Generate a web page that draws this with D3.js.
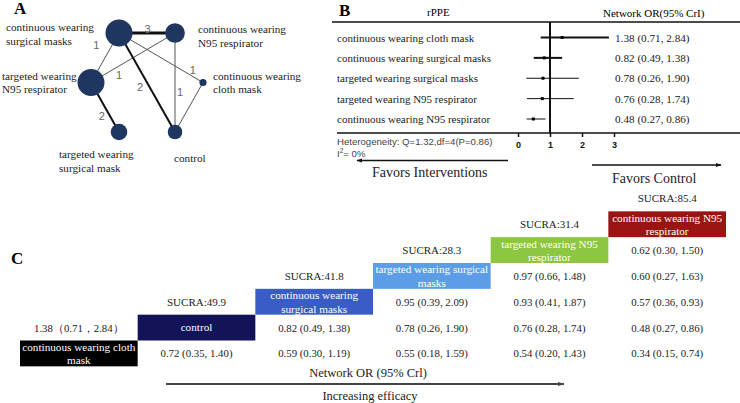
<!DOCTYPE html>
<html><head><meta charset="utf-8">
<script src="https://cdn.jsdelivr.net/npm/d3@7"></script>
<style>body{margin:0;background:#fff} svg{display:block}</style>
</head><body><svg id="c" width="740" height="403"></svg>
<script>
// ================= DATA =================
// Panel A: network
const nodeNames = ["continuous wearing surgical masks","continuous wearing N95 respirator","targeted wearing N95 respirator","continuous wearing cloth mask","targeted wearing surgical mask","control"];
const nodeLines = [["continuous wearing","surgical masks"],["continuous wearing","N95 respirator"],["targeted wearing","N95 respirator"],["continuous wearing","cloth mask"],["targeted wearing","surgical mask"],["control"]];
const nodeSizes = [169, 90, 169, 12, 64, 49];
const edgeFrom = [0,0,1,0,0,1,3,2];
const edgeTo   = [1,2,2,5,3,5,5,4];
const edgeStudies = [3,1,1,2,1,1,1,2];
const edgeLabelShown = [true,true,true,true,true,true,false,true];

// Panel B: forest plot
const forestLabels = ["continuous wearing cloth mask","continuous wearing surgical masks","targeted wearing surgical masks","targeted wearing N95 respirator","continuous wearing N95 respirator"];
const forestOR = [1.38,0.82,0.78,0.76,0.48];
const forestLo = [0.71,0.49,0.26,0.28,0.27];
const forestHi = [2.84,1.38,1.90,1.74,0.86];
const forestTicks = [0,1,2,3];

// Panel C: league table
const leagueTreatments = ["continuous wearing cloth mask","control","continuous wearing surgical masks","targeted wearing surgical masks","targeted wearing N95 respirator","continuous wearing N95 respirator"];
const leagueBoxLines = [["continuous wearing cloth","mask"],["control"],["continuous wearing","surgical masks"],["targeted wearing surgical","masks"],["targeted wearing N95","respirator"],["continuous wearing N95","respirator"]];
const leagueSucra = [null,49.9,41.8,28.3,31.4,85.4];
const cellRow = [0,0,0,0,0, 1,1,1,1,1, 2,2,2, 3,3, 4];
const cellCol = [1,2,3,4,5, 0,2,3,4,5, 3,4,5, 4,5, 5];
const cellOR  = [0.72,0.59,0.55,0.54,0.34, 1.38,0.82,0.78,0.76,0.48, 0.95,0.93,0.57, 0.97,0.60, 0.62];
const cellLo  = [0.35,0.30,0.18,0.20,0.15, 0.71,0.49,0.26,0.28,0.27, 0.39,0.41,0.36, 0.66,0.27, 0.30];
const cellHi  = [1.40,1.19,1.59,1.43,0.74, 2.84,1.38,1.90,1.74,0.86, 2.09,1.87,0.93, 1.48,1.63, 1.50];

// ================= STYLE / LAYOUT =================
const SERIF = "'Liberation Serif','Times New Roman',serif";
const SANS = "'Liberation Sans',Arial,sans-serif";
const nodeGX = [1,3,0,4,1,3], nodeGY = [0,0,1,1,2,2];
const nodeLabelOff = [[-113,-2],[23,0],[-89,-3],[10,-3],[-60,26],[-1,30]];
const edgeLabelPos = [[0.51,0,-4],[0.24,-16,0],[0.667,0,9],[0.545,-9.5,0],[0.88,0,-7],[0.6,5,0],[0,0,0],[0.67,-8,0]];
const forestStroke = [2,2,1,1,1];
const boxColors = ["#000000","#13135a","#3a5cc6","#5c9de8","#8dc640","#9b1414"];

const svg = d3.select("#c");
svg.append("rect").attr("width",740).attr("height",403).attr("fill","#fff");

// ================= PANEL A =================
const gA = svg.append("g");
gA.append("text").attr("x",14).attr("y",14).attr("font-family",SERIF).attr("font-weight","bold").attr("font-size",17).text("A");
const ax = d3.scaleLinear().domain([0,4]).range([91,203]);
const ay = d3.scaleLinear().domain([0,2]).range([33,132]);
const rS = d3.scaleSqrt().domain([0,169]).range([0,13.5]);
const nodes = nodeNames.map((n,i)=>({name:n,x:ax(nodeGX[i]),y:ay(nodeGY[i]),r:rS(nodeSizes[i]),lines:nodeLines[i],off:nodeLabelOff[i]}));
const edges = edgeFrom.map((f,i)=>({s:nodes[f],t:nodes[edgeTo[i]],n:edgeStudies[i],show:edgeLabelShown[i],lp:edgeLabelPos[i]}));
const wS = d3.scaleLinear().domain([1,3]).range([1,3]);
gA.selectAll("line.e").data(edges).join("line").attr("class","e")
  .attr("x1",d=>d.s.x).attr("y1",d=>d.s.y).attr("x2",d=>d.t.x).attr("y2",d=>d.t.y)
  .attr("stroke",d=>d.n>1?"#111":"#555").attr("stroke-width",d=>wS(d.n));
gA.selectAll("text.el").data(edges.filter(d=>d.show)).join("text").attr("class","el")
  .attr("x",d=>d.s.x+(d.t.x-d.s.x)*d.lp[0]+d.lp[1])
  .attr("y",d=>d.s.y+(d.t.y-d.s.y)*d.lp[0]+d.lp[2])
  .attr("text-anchor","middle").attr("dominant-baseline","central")
  .attr("font-family",SANS).attr("font-size",11).attr("fill","#666").text(d=>d.n);
gA.selectAll("circle").data(nodes).join("circle")
  .attr("cx",d=>d.x).attr("cy",d=>d.y).attr("r",d=>d.r).attr("fill","#1f3660");
nodes.forEach(d=>{
  const t = gA.append("text").attr("font-family",SERIF).attr("font-size",11.2).attr("fill","#222");
  d.lines.forEach((l,j)=>t.append("tspan").attr("x",d.x+d.off[0]).attr("y",d.y+d.off[1]+j*13.5).text(l));
});

// ================= PANEL B =================
const gB = svg.append("g");
gB.append("text").attr("x",339).attr("y",16).attr("font-family",SERIF).attr("font-weight","bold").attr("font-size",17).text("B");
gB.append("text").attr("x",427).attr("y",16).attr("font-family",SERIF).attr("font-size",11).text("rPPE");
gB.append("text").attr("x",603).attr("y",17).attr("font-family",SERIF).attr("font-size",11).text("Network OR(95% CrI)");
const fx = d3.scaleLinear().domain([0,3]).range([518,614]);
const fy = d3.scalePoint().domain(forestLabels).range([37.5,119]);
gB.append("line").attr("x1",332).attr("x2",740).attr("y1",22).attr("y2",22).attr("stroke","#111").attr("stroke-width",1.5);
gB.append("line").attr("x1",337).attr("x2",740).attr("y1",133).attr("y2",133).attr("stroke","#111").attr("stroke-width",1.5);
gB.append("line").attr("x1",fx(1)).attr("x2",fx(1)).attr("y1",22).attr("y2",133).attr("stroke","#111").attr("stroke-width",2);
const fr = forestLabels.map((l,i)=>({l,or:forestOR[i],lo:forestLo[i],hi:forestHi[i],sw:forestStroke[i]}));
gB.selectAll("text.fl").data(fr).join("text").attr("class","fl")
  .attr("x",337).attr("y",d=>fy(d.l)+4).attr("font-family",SERIF).attr("font-size",11).attr("fill","#222").text(d=>d.l);
gB.selectAll("line.ci").data(fr).join("line").attr("class","ci")
  .attr("x1",d=>fx(d.lo)).attr("x2",d=>fx(d.hi)).attr("y1",d=>fy(d.l)).attr("y2",d=>fy(d.l))
  .attr("stroke","#111").attr("stroke-width",d=>d.sw);
gB.selectAll("rect.pt").data(fr).join("rect").attr("class","pt")
  .attr("x",d=>fx(d.or)-1.5).attr("y",d=>fy(d.l)-1.5).attr("width",3).attr("height",3).attr("fill","#000");
gB.selectAll("text.fv").data(fr).join("text").attr("class","fv")
  .attr("x",615).attr("y",d=>fy(d.l)+4).attr("font-family",SERIF).attr("font-size",11.2).attr("fill","#222")
  .text(d=>`${d3.format(".2f")(d.or)} (${d3.format(".2f")(d.lo)}, ${d3.format(".2f")(d.hi)})`);
const axB = gB.append("g").attr("transform","translate(0,133)")
  .call(d3.axisBottom(fx).tickValues(forestTicks).tickSize(4).tickFormat(d3.format("d")));
axB.select(".domain").remove();
axB.selectAll(".tick line").attr("stroke","#111").attr("stroke-width",1.5);
axB.selectAll(".tick text").attr("font-family",SANS).attr("font-weight","bold").attr("font-size",9).attr("fill","#111").attr("dy","0.9em");
gB.append("text").attr("x",337).attr("y",144.5).attr("font-family",SANS).attr("font-size",9.6).attr("fill","#444").text("Heterogeneity: Q=1.32,df=4(P=0.86)");
const i2 = gB.append("text").attr("x",337).attr("y",156.5).attr("font-family",SANS).attr("font-size",9.6).attr("fill","#444");
i2.append("tspan").text("I");
i2.append("tspan").attr("font-size",6.5).attr("dy",-4).text("2");
i2.append("tspan").attr("dy",4).text("= 0%");
const defs = svg.append("defs");
defs.append("marker").attr("id","ah").attr("viewBox","0 0 10 10").attr("refX",9).attr("refY",5)
  .attr("markerWidth",6).attr("markerHeight",6).attr("markerUnits","userSpaceOnUse").attr("orient","auto-start-reverse")
  .append("path").attr("d","M0,1.5L10,5L0,8.5Z").attr("fill","#111");
defs.append("marker").attr("id","ah2").attr("viewBox","0 0 10 10").attr("refX",9).attr("refY",5)
  .attr("markerWidth",7).attr("markerHeight",7).attr("markerUnits","userSpaceOnUse").attr("orient","auto")
  .append("path").attr("d","M0,2L10,5L0,8Z").attr("fill","#444");
gB.append("line").attr("x1",508).attr("x2",357).attr("y1",160.5).attr("y2",160.5).attr("stroke","#111").attr("stroke-width",1.3).attr("marker-end","url(#ah)");
gB.append("line").attr("x1",592).attr("x2",721).attr("y1",165).attr("y2",165).attr("stroke","#111").attr("stroke-width",1.3).attr("marker-end","url(#ah)");
gB.append("text").attr("x",372).attr("y",177).attr("font-family",SERIF).attr("font-size",14).attr("fill","#222").text("Favors Interventions");
gB.append("text").attr("x",612).attr("y",183).attr("font-family",SERIF).attr("font-size",14).attr("fill","#222").text("Favors Control");

// ================= PANEL C =================
const gC = svg.append("g");
gC.append("text").attr("x",11).attr("y",264).attr("font-family",SERIF).attr("font-weight","bold").attr("font-size",17).text("C");
const cx = d3.scaleLinear().domain([0,6]).range([20,726]);
const ry = d3.scaleLinear().domain([0,6]).range([340.5,185.5]);
const cw = cx(1)-cx(0), rh = ry(0)-ry(1);
const boxes = leagueTreatments.map((t,i)=>({t,i,lines:leagueBoxLines[i],col:boxColors[i],s:leagueSucra[i]}));
gC.selectAll("rect.bx").data(boxes).join("rect").attr("class","bx")
  .attr("x",d=>cx(d.i)).attr("y",d=>ry(d.i)).attr("width",cw).attr("height",rh).attr("fill",d=>d.col);
boxes.forEach(d=>{
  const cy = ry(d.i)+rh/2;
  const t = gC.append("text").attr("font-family",SERIF).attr("font-size",11.2).attr("fill","#fff").attr("text-anchor","middle");
  if(d.lines.length===1) t.append("tspan").attr("x",cx(d.i)+cw/2).attr("y",cy+3.5).text(d.lines[0]);
  else d.lines.forEach((l,j)=>t.append("tspan").attr("x",cx(d.i)+cw/2).attr("y",cy-2.5+j*13.5).text(l));
});
gC.selectAll("text.sc").data(boxes.filter(d=>d.s!=null)).join("text").attr("class","sc")
  .attr("x",d=>cx(d.i)+cw/2).attr("y",d=>ry(d.i+1)+rh/2+4).attr("text-anchor","middle")
  .attr("font-family",SERIF).attr("font-size",11).attr("fill","#222").text(d=>"SUCRA:"+d3.format(".1f")(d.s));
const f2 = d3.format(".2f");
const cells = cellRow.map((r,i)=>({r,c:cellCol[i],or:cellOR[i],lo:cellLo[i],hi:cellHi[i]}));
gC.selectAll("text.cv").data(cells).join("text").attr("class","cv")
  .attr("x",d=>cx(d.c)+cw/2).attr("y",d=>ry(d.r)+rh/2+4).attr("text-anchor","middle")
  .attr("font-family",SERIF).attr("font-size",10.8).attr("fill","#222")
  .text(d=>d.c<d.r ? `${f2(d.or)}（${f2(d.lo)}，${f2(d.hi)}）` : `${f2(d.or)} (${f2(d.lo)}, ${f2(d.hi)})`);
gC.append("text").attr("x",368).attr("y",377).attr("text-anchor","middle").attr("font-family",SERIF).attr("font-size",12.5).attr("fill","#222").text("Network OR (95% Crl)");
gC.append("line").attr("x1",166).attr("x2",564).attr("y1",384).attr("y2",384).attr("stroke","#444").attr("stroke-width",2).attr("marker-end","url(#ah2)");
gC.append("text").attr("x",370).attr("y",400).attr("text-anchor","middle").attr("font-family",SERIF).attr("font-size",12.5).attr("fill","#222").text("Increasing efficacy");
</script></body></html>
